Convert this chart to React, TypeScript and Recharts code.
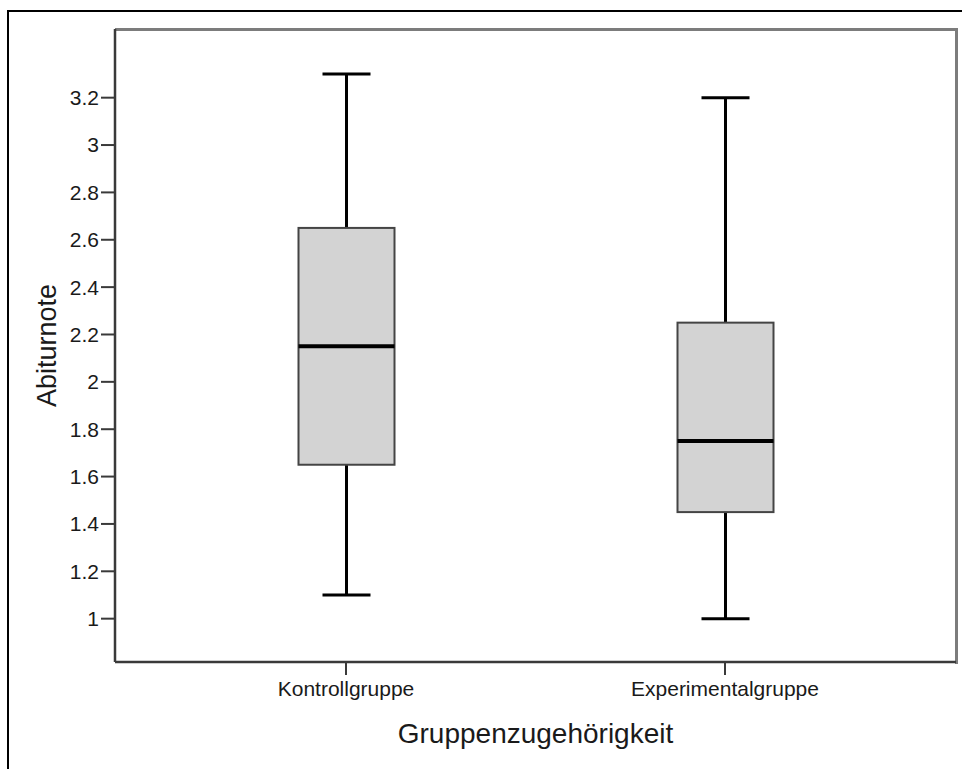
import React from 'react';
import { ComposedChart, Bar, XAxis, YAxis } from 'recharts';

const categories = ['Kontrollgruppe', 'Experimentalgruppe'];
const whiskerLow = [1.1, 1.0];
const quartile1 = [1.65, 1.45];
const medians = [2.15, 1.75];
const quartile3 = [2.65, 2.25];
const whiskerHigh = [3.3, 3.2];
const yTicks = [1, 1.2, 1.4, 1.6, 1.8, 2, 2.2, 2.4, 2.6, 2.8, 3, 3.2];

const data = categories.map((name, i) => ({
  name,
  range: [whiskerLow[i], whiskerHigh[i]],
  low: whiskerLow[i],
  q1: quartile1[i],
  median: medians[i],
  q3: quartile3[i],
  high: whiskerHigh[i],
}));

const FONT = '"Liberation Sans", Arial, sans-serif';
const AXIS = '#3a3a3a';

// ranged bar gives the whisker span in pixels, the rest is placed along it
const BoxShape = (props: any) => {
  const { x, y, width, height, payload } = props;
  const { low, q1, median, q3, high } = payload;
  const perUnit = height / (high - low);
  const toY = (v: number) => y + (high - v) * perUnit;
  const cx = x + width / 2;
  const cap = width / 4;
  return (
    <g>
      <line x1={cx} x2={cx} y1={toY(high)} y2={toY(q3)} stroke="#000" strokeWidth={3} />
      <line x1={cx} x2={cx} y1={toY(q1)} y2={toY(low)} stroke="#000" strokeWidth={3} />
      <line x1={cx - cap} x2={cx + cap} y1={toY(high)} y2={toY(high)} stroke="#000" strokeWidth={3} />
      <line x1={cx - cap} x2={cx + cap} y1={toY(low)} y2={toY(low)} stroke="#000" strokeWidth={3} />
      <rect x={x} y={toY(q3)} width={width} height={toY(q1) - toY(q3)} fill="#d3d3d3" stroke="#444" strokeWidth={2} />
      <line x1={x} x2={x + width} y1={toY(median)} y2={toY(median)} stroke="#000" strokeWidth={4} />
    </g>
  );
};

export default function App() {
  return (
    <div style={{ position: 'absolute', left: 0, top: 0, width: 962, height: 769, background: '#fff', overflow: 'hidden' }}>
      <div style={{ position: 'absolute', left: 7, top: 10, width: 1000, height: 800, borderLeft: '2px solid #000', borderTop: '2px solid #000' }} />
      {/* gray frame of the plot area (top and right sides) */}
      <div style={{ position: 'absolute', left: 115, top: 28, width: 843, height: 636, boxSizing: 'border-box', borderTop: '3px solid #7c7c7c', borderRight: '3px solid #7c7c7c' }} />
      <div style={{ position: 'absolute', left: 0, top: 0 }}>
        <ComposedChart width={962} height={769} data={data} margin={{ top: 29, right: 6, bottom: 27, left: 7 }}>
          <XAxis
            dataKey="name"
            padding={{ left: 41.5, right: 41.5 }}
            height={80}
            tickSize={13}
            tickMargin={6}
            axisLine={{ stroke: AXIS, strokeWidth: 2.5 }}
            tickLine={{ stroke: AXIS, strokeWidth: 2 }}
            tick={{ fontSize: 21, fill: '#1a1a1a', fontFamily: FONT }}
            label={{
              content: (p: any) => (
                <text x={p.viewBox.x + p.viewBox.width / 2} y={p.viewBox.y + 81} textAnchor="middle" fontSize={28} fill="#1a1a1a" fontFamily={FONT}>
                  Gruppenzugehörigkeit
                </text>
              ),
            }}
          />
          <YAxis
            type="number"
            domain={[0.817, 3.49]}
            ticks={yTicks}
            allowDataOverflow
            width={108}
            tickSize={14}
            tickMargin={2}
            tickFormatter={(v: number) => String(v)}
            axisLine={{ stroke: AXIS, strokeWidth: 2.5 }}
            tickLine={{ stroke: AXIS, strokeWidth: 2 }}
            tick={{ fontSize: 21, fill: '#1a1a1a', fontFamily: FONT }}
            label={{
              content: (p: any) => {
                const lx = p.viewBox.x + 40;
                const ly = p.viewBox.y + p.viewBox.height / 2;
                return (
                  <text x={lx} y={ly} transform={`rotate(-90 ${lx} ${ly})`} textAnchor="middle" dominantBaseline="central" fontSize={27} fill="#1a1a1a" fontFamily={FONT}>
                    Abiturnote
                  </text>
                );
              },
            }}
          />
          <Bar dataKey="range" barSize={96} shape={BoxShape} isAnimationActive={false} />
        </ComposedChart>
      </div>
    </div>
  );
}
